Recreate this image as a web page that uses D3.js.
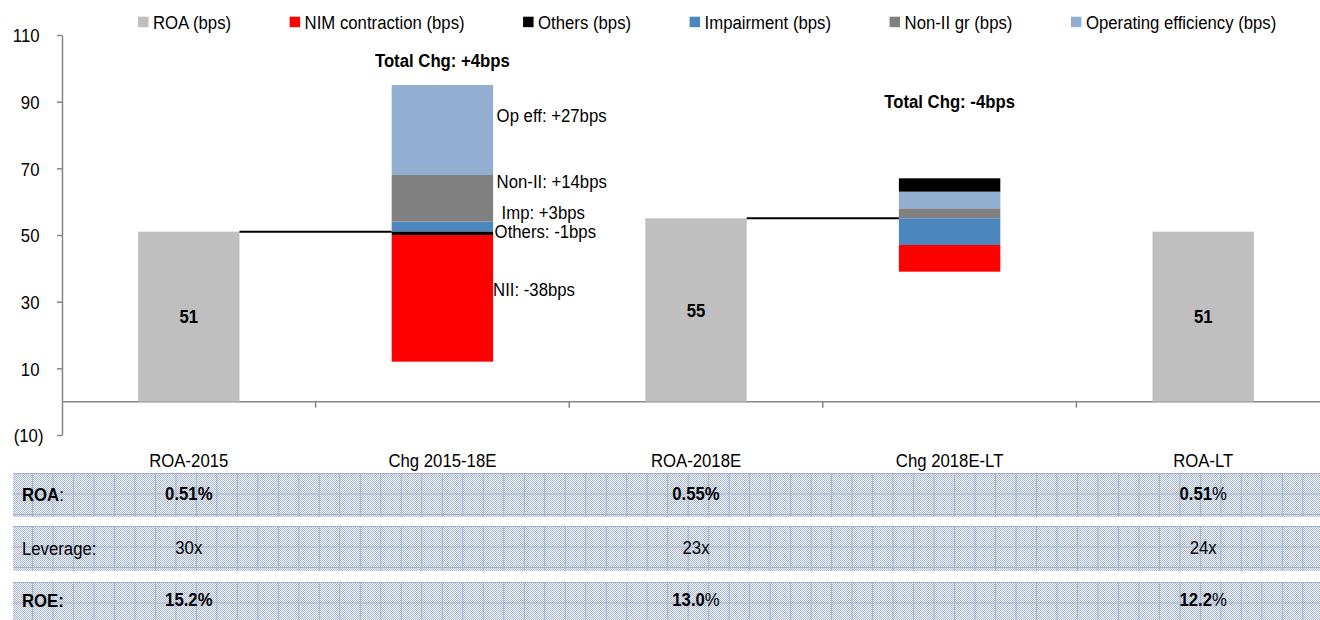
<!DOCTYPE html>
<html>
<head>
<meta charset="utf-8">
<script src="https://cdn.jsdelivr.net/npm/d3@7"></script>
<style>
  body { margin: 0; background: #fff; }
  svg { display: block; }
  text { font-family: "Liberation Sans", Arial, sans-serif; fill: #000; }
</style>
</head>
<body>
<svg id="chart" width="1320" height="620"></svg>
<script>
// ---- data ----
const categories = ["ROA-2015", "Chg 2015-18E", "ROA-2018E", "Chg 2018E-LT", "ROA-LT"];
const roaCategories = ["ROA-2015", "ROA-2018E", "ROA-LT"];
const roaValues = [51, 55, 51];                 // bps
const changeCategories = ["Chg 2015-18E", "Chg 2018E-LT"];
const nimChg = [-38, -8];
const othersChg = [-1, 4];
const impChg = [3, -8];
const nonIIChg = [14, 3];
const opEffChg = [27, 5];
const totalChg = [4, -4];
const yTicks = [-10, 10, 30, 50, 70, 90, 110];
const legendLabels = ["ROA (bps)", "NIM contraction (bps)", "Others (bps)",
                      "Impairment (bps)", "Non-II gr (bps)", "Operating efficiency (bps)"];
const tableRowLabels = ["ROA", "Leverage", "ROE"];
const roaPct = ["0.51%", "0.55%", "0.51%"];
const leverage = ["30x", "23x", "24x"];
const roePct = ["15.2%", "13.0%", "12.2%"];

// ---- style ----
const colors = { roa: "#bfbfbf", nim: "#ff0000", others: "#000000",
                 imp: "#4b87bd", nonii: "#808080", opeff: "#92afd1" };
const axisColor = "#868686";
const FS = 18.6;      // font size
const SX = 0.9;       // horizontal text compression

const series = [
  { key: "nim",    short: "NII",    values: nimChg },
  { key: "others", short: "Others", values: othersChg },
  { key: "imp",    short: "Imp",    values: impChg },
  { key: "nonii",  short: "Non-II", values: nonIIChg },
  { key: "opeff",  short: "Op eff", values: opEffChg }
];
// stacking order outward from the base, for gains and for losses
const upOrder = ["nim", "imp", "nonii", "opeff", "others"];
const downOrder = ["others", "imp", "nim", "nonii", "opeff"];

const svg = d3.select("#chart");

const x = d3.scaleBand().domain(categories).range([62, 1330])
  .paddingInner(0.6).paddingOuter(0.3);
const y = d3.scaleLinear().domain([-10, 110]).range([435, 35]);

function label(parent, tx, ty, anchor, weight, size) {
  return parent.append("text")
    .attr("transform", `translate(${tx},${ty}) scale(${SX},1)`)
    .attr("text-anchor", anchor || "start")
    .attr("font-weight", weight || "normal")
    .attr("font-size", size || FS);
}

// ---- table rows with patterned fill ----
const defs = svg.append("defs");
const dither = defs.append("pattern").attr("id", "dither")
  .attr("patternUnits", "userSpaceOnUse").attr("width", 2).attr("height", 2);
dither.append("rect").attr("width", 2).attr("height", 2).attr("fill", "#eef1f7");
dither.append("rect").attr("x", 0).attr("y", 0).attr("width", 1).attr("height", 1).attr("fill", "#adbbd3");
dither.append("rect").attr("x", 1).attr("y", 1).attr("width", 1).attr("height", 1).attr("fill", "#adbbd3");

const rowBoxes = [{ top: 473, h: 44 }, { top: 526, h: 45 }, { top: 582, h: 40 }];
rowBoxes.forEach((r, i) => {
  const p = defs.append("pattern").attr("id", "grid" + i)
    .attr("patternUnits", "userSpaceOnUse")
    .attr("x", 11.5).attr("y", r.top).attr("width", 20.49).attr("height", 20.49);
  p.append("rect").attr("width", 1).attr("height", 20.49).attr("fill", "#9fb2d3");
  p.append("rect").attr("width", 20.49).attr("height", 1).attr("fill", "#9fb2d3");
  svg.append("rect").attr("x", 13).attr("y", r.top).attr("width", 1307).attr("height", r.h)
    .attr("fill", "url(#dither)");
  svg.append("rect").attr("x", 13).attr("y", r.top).attr("width", 1307).attr("height", r.h)
    .attr("fill", "url(#grid" + i + ")");
});

// ---- axes ----
const yAxis = d3.axisLeft(y).tickValues(yTicks).tickSize(5).tickSizeOuter(0)
  .tickFormat(d => d < 0 ? `(${-d})` : d);
const gy = svg.append("g").attr("transform", "translate(62,0)").call(yAxis);
gy.select(".domain").attr("stroke", axisColor).attr("stroke-width", 1.5);
gy.selectAll(".tick line").attr("stroke", axisColor).attr("stroke-width", 1.5);
gy.selectAll(".tick text")
  .attr("x", null).attr("dy", "0.36em")
  .attr("font-size", FS).attr("font-family", null).attr("fill", "#000")
  .attr("transform", d => `translate(${d < 0 ? -18.5 : -22.5},0) scale(${SX},1)`);

// zero line
svg.append("line").attr("x1", 62).attr("x2", 1320)
  .attr("y1", y(0)).attr("y2", y(0))
  .attr("stroke", axisColor).attr("stroke-width", 1.5);
// category boundary ticks
categories.slice(1).forEach(c => {
  const bx = x(c) - x.step() * x.paddingInner() / 2;
  svg.append("line").attr("x1", bx).attr("x2", bx)
    .attr("y1", y(0)).attr("y2", y(0) + 6)
    .attr("stroke", axisColor).attr("stroke-width", 1.5);
});
// category labels
categories.forEach(c => {
  label(svg, x(c) + x.bandwidth() / 2, 467, "middle").text(c);
});

// ---- ROA level bars ----
roaCategories.forEach((c, i) => {
  const v = roaValues[i];
  svg.append("rect").attr("x", x(c)).attr("width", x.bandwidth())
    .attr("y", y(v)).attr("height", y(0) - y(v)).attr("fill", colors.roa);
  label(svg, x(c) + x.bandwidth() / 2, y(v / 2) + 6.5, "middle", "bold").text(v);
});

// ---- change bars (floating stacks) ----
const segments = [];
changeCategories.forEach((c, j) => {
  const base = roaValues[j];
  let up = base, down = base;
  upOrder.forEach(k => {
    const s = series.find(d => d.key === k), v = s.values[j];
    if (v > 0) { segments.push({ cat: c, j, key: k, s, v, lo: up, hi: up + v }); up += v; }
  });
  downOrder.forEach(k => {
    const s = series.find(d => d.key === k), v = s.values[j];
    if (v < 0) { segments.push({ cat: c, j, key: k, s, v, lo: down + v, hi: down }); down += v; }
  });
});

// connectors from each level bar to the following change bar
changeCategories.forEach((c, j) => {
  const from = roaCategories[j];
  svg.append("line")
    .attr("x1", x(from) + x.bandwidth()).attr("x2", x(c))
    .attr("y1", y(roaValues[j])).attr("y2", y(roaValues[j]))
    .attr("stroke", "#000").attr("stroke-width", 2);
});

svg.selectAll("rect.seg").data(segments).join("rect").attr("class", "seg")
  .attr("x", d => x(d.cat)).attr("width", x.bandwidth())
  .attr("y", d => y(d.hi)).attr("height", d => y(d.lo) - y(d.hi))
  .attr("fill", d => colors[d.key]);

// segment annotations for the 2015-18E bridge
const annotNudge = { opeff: [3.5, -8], nonii: [3.5, -10.7], imp: [8.5, -8],
                     others: [1.5, 4.3], nim: [0, -2.7] };
segments.filter(d => d.j === 0).forEach(d => {
  const n = annotNudge[d.key];
  const sign = d.v > 0 ? "+" : "-";
  label(svg, x(d.cat) + x.bandwidth() + n[0], y((d.lo + d.hi) / 2) + n[1], "start")
    .text(`${d.s.short}: ${sign}${Math.abs(d.v)}bps`);
});

// totals
const totalLabelY = [67, 108];
changeCategories.forEach((c, j) => {
  const t = totalChg[j];
  label(svg, x(c) + x.bandwidth() / 2, totalLabelY[j], "middle", "bold")
    .text(`Total Chg: ${t > 0 ? "+" : "-"}${Math.abs(t)}bps`);
});

// ---- legend ----
const legendKeys = ["roa", "nim", "others", "imp", "nonii", "opeff"];
let lx = 138;
legendLabels.forEach((name, i) => {
  svg.append("rect").attr("x", lx).attr("y", 16.7).attr("width", 10.5).attr("height", 10.5)
    .attr("fill", colors[legendKeys[i]]);
  const t = label(svg, lx + 15, 29, "start").text(name);
  lx += 15 + t.node().getComputedTextLength() * SX + 58.5;
});

// ---- table text ----
const rowBaselines = [501, 555, 607];
const rowLabelWeights = [["bold", "normal"], ["normal", "normal"], ["bold", "bold"]];
tableRowLabels.forEach((name, i) => {
  const t = label(svg, 22, rowBaselines[i], "start");
  t.append("tspan").attr("font-weight", rowLabelWeights[i][0]).text(name);
  t.append("tspan").attr("font-weight", rowLabelWeights[i][1]).text(":");
});
const tableRows = [roaPct, leverage, roePct];
const numWeights = ["bold", "normal", "bold"];
const suffixBold = [[true, true, false], [false, false, false], [true, false, false]];
tableRows.forEach((vals, i) => {
  vals.forEach((v, k) => {
    const cx = x(roaCategories[k]) + x.bandwidth() / 2;
    const t = label(svg, cx, rowBaselines[i] - 1, "middle");
    t.append("tspan").attr("font-weight", numWeights[i]).text(v.slice(0, -1));
    t.append("tspan").attr("font-weight", suffixBold[i][k] ? "bold" : "normal").text(v.slice(-1));
  });
});
</script>
</body>
</html>
